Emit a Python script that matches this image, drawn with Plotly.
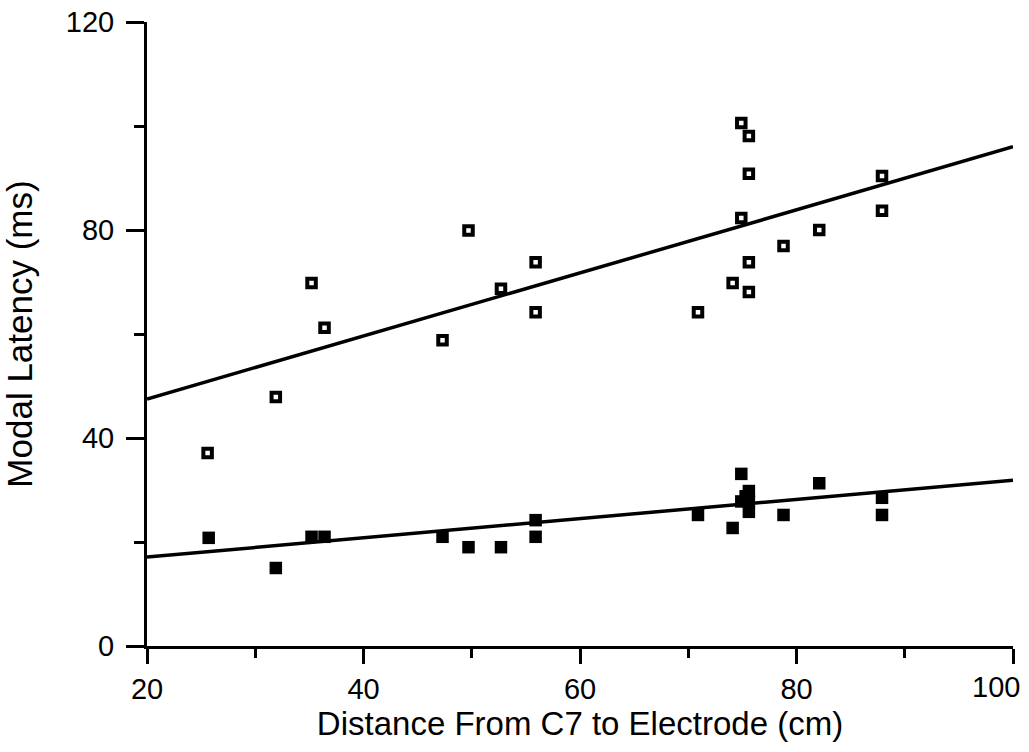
import plotly.graph_objects as go

# Open squares (upper series)
open_x = [25.6, 31.9, 35.2, 36.4, 47.3, 49.7, 52.7, 55.9, 55.9, 70.9, 74.1,
          74.9, 75.6, 74.9, 75.6, 75.6, 75.6, 78.8, 82.1, 87.9, 87.9]
open_y = [37.1, 47.9, 69.8, 61.2, 58.8, 79.9, 68.7, 73.8, 64.2, 64.2, 69.8,
          100.6, 98.1, 82.3, 90.8, 73.8, 68.1, 76.9, 80.0, 90.4, 83.7]

# Filled squares (lower series)
filled_x = [25.7, 31.9, 35.2, 36.4, 47.3, 49.7, 52.7, 55.9, 55.9, 70.9, 74.1,
            74.9, 75.6, 74.9, 75.6, 75.6, 78.8, 82.1, 87.9, 87.9, 75.3]
filled_y = [20.8, 15.0, 21.0, 21.0, 21.0, 19.0, 19.0, 24.2, 21.0, 25.2, 22.7,
            33.1, 29.8, 27.8, 25.8, 27.8, 25.2, 31.3, 28.5, 25.2, 28.8]

# Regression line endpoints
fit_x = [20, 100]
upper_fit = [47.5, 96.0]
lower_fit = [17.1, 31.9]

# Axis ticks
x_major = [20, 40, 60, 80, 100]
x_minor = [30, 50, 70, 90]
y_major = [0, 40, 80, 120]
y_minor = [20, 60, 100]

FONT = "Liberation Sans, Arial, Helvetica, sans-serif"
TICK_SIZE = 29

fig = go.Figure()
fig.add_trace(go.Scatter(x=fit_x, y=upper_fit, mode="lines",
                         line=dict(color="black", width=3.5), showlegend=False))
fig.add_trace(go.Scatter(x=fit_x, y=lower_fit, mode="lines",
                         line=dict(color="black", width=3.5), showlegend=False))
fig.add_trace(go.Scatter(x=open_x, y=open_y, mode="markers", showlegend=False,
                         marker=dict(symbol="square", size=8.5, color="white",
                                     line=dict(color="black", width=4))))
fig.add_trace(go.Scatter(x=filled_x, y=filled_y, mode="markers", showlegend=False,
                         marker=dict(symbol="square", size=12.5, color="black",
                                     line=dict(width=0))))

# Last x tick label sits at the right edge; drawn as annotation so it stays visible
fig.add_annotation(x=x_major[-1], y=0, xref="x", yref="paper", text=str(x_major[-1]),
                   showarrow=False, xanchor="right", yanchor="top",
                   xshift=9, yshift=-23, font=dict(size=TICK_SIZE, family=FONT))

fig.update_layout(
    width=1029, height=752,
    margin=dict(l=147, r=16, t=22, b=106),
    paper_bgcolor="white", plot_bgcolor="white",
    font=dict(family=FONT, color="black", size=TICK_SIZE),
    xaxis=dict(
        range=[20, 100], showgrid=False, zeroline=False, automargin=False,
        showline=True, linecolor="black", linewidth=3,
        ticks="outside", ticklen=15, tickwidth=3, tickcolor="black",
        tickvals=x_major,
        ticktext=[str(v) for v in x_major[:-1]] + [""],
        tickfont=dict(size=TICK_SIZE),
        minor=dict(tickvals=x_minor, ticks="outside", ticklen=9,
                   tickwidth=3, tickcolor="black", showgrid=False),
        title=dict(text="Distance From C7 to Electrode (cm)",
                   font=dict(size=33), standoff=8),
    ),
    yaxis=dict(
        range=[0, 120], showgrid=False, zeroline=False, automargin=False,
        showline=True, linecolor="black", linewidth=3,
        ticks="outside", ticklen=18, tickwidth=3, tickcolor="black",
        tickvals=y_major, ticktext=[str(v) for v in y_major],
        tickfont=dict(size=TICK_SIZE), ticklabelstandoff=6,
        ticklabeloverflow="allow",
        minor=dict(tickvals=y_minor, ticks="outside", ticklen=10,
                   tickwidth=3, tickcolor="black", showgrid=False),
        title=dict(text="Modal Latency (ms)", font=dict(size=35), standoff=29),
    ),
)

# Remove the default 8px page margin so the figure fills the window exactly
fig.write_html("out.html",
               config={"displayModeBar": False, "staticPlot": True},
               post_script="document.body.style.margin='0';document.body.style.overflow='hidden';")
